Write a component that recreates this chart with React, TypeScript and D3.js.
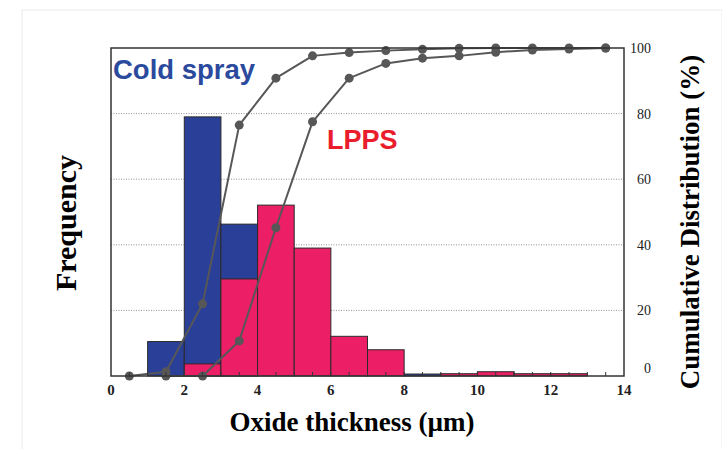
import React, { useRef, useEffect } from 'react';
import * as d3 from 'd3';

// histogram bins (start of each 1 µm bin)
const binStarts = [0, 1, 2, 3, 4, 5, 6, 7, 8, 9, 10, 11, 12, 13];
const coldFreq = [0, 10.5, 79, 46.3, 0, 0, 0, 0, 0.6, 0, 0, 0, 0, 0];
const lppsFreq = [0, 0, 3.7, 29.6, 52.1, 39, 12.1, 8, 0, 0.7, 1.3, 0.7, 0.7, 0];

// cumulative curves, at bin centres
const cumX = [0.5, 1.5, 2.5, 3.5, 4.5, 5.5, 6.5, 7.5, 8.5, 9.5, 10.5, 11.5, 12.5, 13.5];
const coldCum = [0, 1.3, 22, 76.5, 90.8, 97.6, 98.6, 99.2, 99.6, 99.9, 100, 100, 100, 100];
const lppsCum = [null, 0, 0, 10.7, 45.2, 77.5, 90.8, 95.3, 96.9, 97.6, 98.7, 99.4, 99.7, 100];

const xTicks = [0, 2, 4, 6, 8, 10, 12, 14];
const yTicks = [0, 20, 40, 60, 80, 100];
const gridTicks = [20, 40, 60, 80];

const W = 722;
const H = 449;

const App: React.FC = () => {
  const ref = useRef<SVGSVGElement>(null);

  useEffect(() => {
    if (!ref.current) return;
    const svg = d3.select(ref.current);
    svg.selectAll('*').remove();

    const left = 111, right = 624, top = 48, bottom = 376;
    const x = d3.scaleLinear().domain([0, 14]).range([left, right]);
    const y = d3.scaleLinear().domain([0, 100]).range([bottom, top]);

    // faint outer frame
    svg.append('rect')
      .attr('x', 22).attr('y', 10).attr('width', 700).attr('height', 460)
      .attr('fill', 'none').attr('stroke', '#ececec');

    // grid
    svg.append('g').selectAll('line')
      .data(gridTicks).enter().append('line')
      .attr('x1', left).attr('x2', right)
      .attr('y1', d => y(d)).attr('y2', d => y(d))
      .attr('stroke', '#777').attr('stroke-width', 0.8)
      .attr('stroke-dasharray', '1,1.5');

    // bars: cold spray behind, LPPS in front
    const drawBars = (vals: number[], fill: string) => {
      svg.append('g').selectAll('rect')
        .data(binStarts.map((b, i) => ({ b, v: vals[i] })).filter(d => d.v > 0))
        .enter().append('rect')
        .attr('x', d => x(d.b))
        .attr('y', d => y(d.v))
        .attr('width', d => x(d.b + 1) - x(d.b))
        .attr('height', d => y(0) - y(d.v))
        .attr('fill', fill)
        .attr('stroke', '#2a2a2a')
        .attr('stroke-width', 1);
    };
    drawBars(coldFreq, '#2a3f98');
    drawBars(lppsFreq, '#ec1e66');

    // cumulative curves
    const line = d3.line<[number, number | null]>()
      .defined(d => d[1] !== null)
      .x(d => x(d[0]))
      .y(d => y(d[1] as number));

    [coldCum, lppsCum].forEach(series => {
      const pts = cumX.map((c, i) => [c, series[i]] as [number, number | null]);
      svg.append('path')
        .datum(pts)
        .attr('fill', 'none')
        .attr('stroke', '#575757')
        .attr('stroke-width', 2)
        .attr('stroke-linejoin', 'round')
        .attr('d', line);
      svg.append('g').selectAll('circle')
        .data(pts.filter(d => d[1] !== null))
        .enter().append('circle')
        .attr('cx', d => x(d[0]))
        .attr('cy', d => y(d[1] as number))
        .attr('r', 4.5)
        .attr('fill', '#575757');
    });

    // frame
    svg.append('rect')
      .attr('x', left).attr('y', top)
      .attr('width', right - left).attr('height', bottom - top)
      .attr('fill', 'none').attr('stroke', '#333').attr('stroke-width', 1.5);

    // x minor ticks (inward)
    svg.append('g').selectAll('line')
      .data(d3.range(0.5, 14, 0.5))
      .enter().append('line')
      .attr('x1', d => x(d)).attr('x2', d => x(d))
      .attr('y1', bottom).attr('y2', bottom - 4)
      .attr('stroke', '#333').attr('stroke-width', 1);

    const serif = '"Liberation Serif", "Times New Roman", serif';
    const sans = '"Liberation Sans", Arial, sans-serif';

    // x tick labels
    svg.append('g').selectAll('text')
      .data(xTicks).enter().append('text')
      .attr('x', d => x(d)).attr('y', 395)
      .attr('text-anchor', 'middle')
      .attr('font-family', serif).attr('font-size', 15).attr('font-weight', 'bold')
      .attr('fill', '#222')
      .text(d => d);

    // right tick labels
    svg.append('g').selectAll('text')
      .data(yTicks).enter().append('text')
      .attr('x', 651).attr('y', d => y(d) + (d === 0 ? -3 : 5))
      .attr('text-anchor', 'end')
      .attr('font-family', serif).attr('font-size', 14)
      .attr('fill', '#222')
      .text(d => d);

    // axis titles
    svg.append('text')
      .attr('x', 352).attr('y', 431)
      .attr('text-anchor', 'middle')
      .attr('font-family', serif).attr('font-size', 27).attr('font-weight', 'bold')
      .text('Oxide thickness (µm)');

    svg.append('text')
      .attr('transform', 'translate(76,223) rotate(-90)')
      .attr('text-anchor', 'middle')
      .attr('font-family', serif).attr('font-size', 30).attr('font-weight', 'bold')
      .text('Frequency');

    svg.append('text')
      .attr('transform', 'translate(699,222) rotate(-90)')
      .attr('text-anchor', 'middle')
      .attr('font-family', serif).attr('font-size', 27).attr('font-weight', 'bold')
      .text('Cumulative Distribution (%)');

    // series labels
    svg.append('text')
      .attr('x', 113).attr('y', 79)
      .attr('font-family', sans).attr('font-size', 27.5).attr('font-weight', 'bold')
      .attr('fill', '#2b4a9e')
      .text('Cold spray');

    svg.append('text')
      .attr('x', 327).attr('y', 149)
      .attr('font-family', sans).attr('font-size', 27).attr('font-weight', 'bold')
      .attr('fill', '#ea1d2c')
      .text('LPPS');
  }, []);

  return (
    <svg
      ref={ref}
      width={W}
      height={H}
      style={{ position: 'absolute', left: 0, top: 0, background: '#fff' }}
    />
  );
};

export default App;
